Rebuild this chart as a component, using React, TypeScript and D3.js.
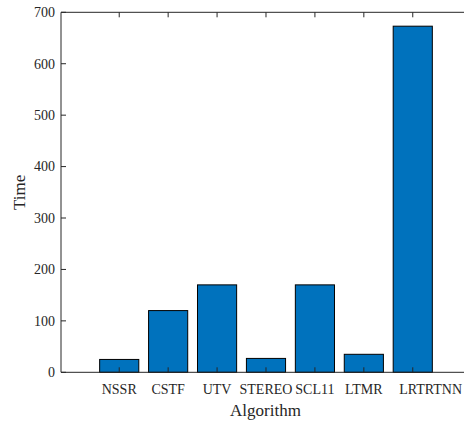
import React from "react";
import * as d3 from "d3";

const categories = ["NSSR", "CSTF", "UTV", "STEREO", "SCL11", "LTMR", "LRTRTNN"];
const times = [25, 120, 170, 27, 170, 35, 673];
const yTicks = [0, 100, 200, 300, 400, 500, 600, 700];

const W = 464;
const H = 426;
const left = 61;
const right = 470;
const top = 12.3;
const bottom = 372.3;
const axisColor = "#262626";
const font = "'Liberation Serif', 'Times New Roman', serif";

export default function App() {
  const x = d3.scaleLinear().domain([-0.19, 8.17]).range([left, right]);
  const y = d3.scaleLinear().domain([0, 700]).range([bottom, top]);
  const step = x(1) - x(0);
  const bw = step * 0.8;
  const tickLen = 5;

  return (
    <svg
      width={W}
      height={H}
      style={{ position: "absolute", left: 0, top: 0, background: "#fff" }}
    >
      <rect x={0} y={0} width={W} height={H} fill="#fff" />
      {categories.map((c, i) => (
        <rect
          key={c}
          x={x(i + 1) - bw / 2}
          y={y(times[i])}
          width={bw}
          height={y(0) - y(times[i])}
          fill="#0072BD"
          stroke="#000"
          strokeWidth={1}
        />
      ))}
      {/* axes box */}
      <line x1={left} x2={right} y1={bottom} y2={bottom} stroke={axisColor} strokeWidth={1} />
      <line x1={left} x2={right} y1={top} y2={top} stroke={axisColor} strokeWidth={1} />
      <line x1={left} x2={left} y1={top} y2={bottom} stroke={axisColor} strokeWidth={1} />
      {/* y ticks */}
      {yTicks.map((t) => (
        <g key={t}>
          <line x1={left} x2={left + tickLen} y1={y(t)} y2={y(t)} stroke={axisColor} strokeWidth={1} />
          <text
            x={55}
            y={y(t)}
            dy="0.35em"
            textAnchor="end"
            fontFamily={font}
            fontSize={14}
            fill={axisColor}
          >
            {t}
          </text>
        </g>
      ))}
      {/* x ticks */}
      {categories.map((c, i) => {
        const last = i === categories.length - 1;
        return (
          <g key={c}>
            <line x1={x(i + 1)} x2={x(i + 1)} y1={bottom} y2={bottom - tickLen} stroke={axisColor} strokeWidth={1} />
            <line x1={x(i + 1)} x2={x(i + 1)} y1={top} y2={top + tickLen} stroke={axisColor} strokeWidth={1} />
            <text
              x={last ? W - 2 : x(i + 1)}
              y={394}
              textAnchor={last ? "end" : "middle"}
              fontFamily={font}
              fontSize={14}
              fill={axisColor}
            >
              {c}
            </text>
          </g>
        );
      })}
      <text
        x={(left + right) / 2}
        y={416}
        textAnchor="middle"
        fontFamily={font}
        fontSize={17}
        fill={axisColor}
      >
        Algorithm
      </text>
      <text
        transform={`translate(25, ${(top + bottom) / 2}) rotate(-90)`}
        textAnchor="middle"
        fontFamily={font}
        fontSize={17}
        fill={axisColor}
      >
        Time
      </text>
    </svg>
  );
}
